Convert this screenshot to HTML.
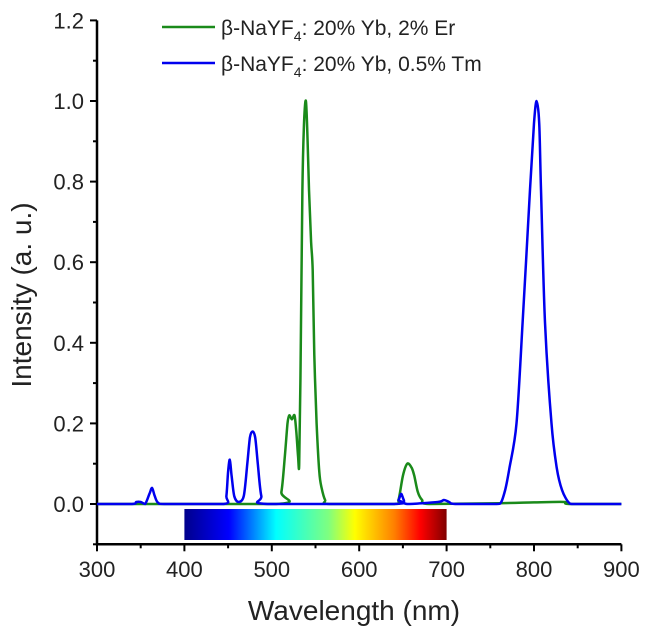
<!DOCTYPE html>
<html><head><meta charset="utf-8"><style>
body{margin:0;background:#fff;}
svg{display:block;font-family:"Liberation Sans",Arial,sans-serif;}
</style></head><body>
<svg id="chart" width="650" height="641" viewBox="0 0 650 641" xmlns="http://www.w3.org/2000/svg">
<defs>
<linearGradient id="spec" x1="0" x2="1" y1="0" y2="0">
<stop offset="0" stop-color="#00008b"/>
<stop offset="0.17" stop-color="#0000ff"/>
<stop offset="0.35" stop-color="#00ffff"/>
<stop offset="0.55" stop-color="#7fff7f"/>
<stop offset="0.65" stop-color="#ffff00"/>
<stop offset="0.8" stop-color="#ff8000"/>
<stop offset="0.9" stop-color="#ff0000"/>
<stop offset="1" stop-color="#800000"/>
</linearGradient>
</defs>
<g id="plot"></g>
</svg>
<script>
const xTicks=[300,400,500,600,700,800,900];
const yTicks=[0.0,0.2,0.4,0.6,0.8,1.0,1.2];
const erWl=[300,505,511,515,518,520,523,526,528,530,531.4,533,535,537,539,541,542.6,545,546.8,548.6,551.3,554.3,557,561,566,640,645,650,655,660,663,667,672,680,760,800,835,840,900];
const erI=[0,0,0.03,0.12,0.2,0.22,0.21,0.22,0.18,0.12,0.10,0.35,0.78,0.95,1.0,0.9,0.78,0.65,0.58,0.37,0.2,0.08,0.04,0.01,0,0,0.01,0.07,0.1,0.09,0.07,0.03,0.01,0,0.002,0.004,0.005,0,0];
const tmWl=[300,340,345,350,355,360,363,366,370,380,445,448,450,452,454,457,462,468,472,475,478,481,484,488,495,640,645,648,651,655,690,697,703,710,755,762,767,772,780,787,795.4,800,803,806,808,812.6,820,826,832,840,848,900];
const tmI=[0,0,0.005,0.005,0,0.025,0.04,0.02,0.003,0,0,0.02,0.08,0.11,0.07,0.02,0.005,0.02,0.1,0.165,0.18,0.165,0.1,0.02,0,0,0.01,0.025,0.01,0,0.005,0.01,0.005,0,0,0.003,0.035,0.09,0.2,0.45,0.78,0.945,1.0,0.945,0.78,0.45,0.2,0.09,0.035,0.003,0,0];
const legendLabels=["20% Yb, 2% Er","20% Yb, 0.5% Tm"];

const NS="http://www.w3.org/2000/svg";
const g=document.getElementById('plot');
const X=w=>97+(w-300)*0.874;
const Y=v=>504-v*403;
function el(tag,attrs,parent){const e=document.createElementNS(NS,tag);for(const k in attrs)e.setAttribute(k,attrs[k]);(parent||g).appendChild(e);return e;}

const cb=el('rect',{x:X(400),y:509,width:X(700)-X(400),height:31,fill:'url(#spec)'});



const ax=el('path',{d:`M${X(300)} ${Y(1.2)}V${Y(-0.1)}H${X(900)}`,stroke:'#000','stroke-width':2.5,fill:'none'});


for(let k=-1;k<=12;k++){const v=k/10;const maj=Math.abs(k)%2===0;
 el('line',{x1:X(300),x2:X(300)-(maj?7:4),y1:Y(v),y2:Y(v),stroke:'#000','stroke-width':2});}
for(let w=300;w<=900;w+=50){const maj=w%100===0;
 el('line',{x1:X(w),x2:X(w),y1:Y(-0.1),y2:Y(-0.1)+(maj?7:4),stroke:'#000','stroke-width':2});}
yTicks.forEach(v=>{const t=el('text',{x:84,y:Y(v)+8,'text-anchor':'end','font-size':22,fill:'#222'});t.textContent=v.toFixed(1);
 
 });
xTicks.forEach(w=>{const t=el('text',{x:X(w),y:577,'text-anchor':'middle','font-size':22,fill:'#222'});t.textContent=w;
 
 });

const xt=el('text',{x:354,y:620,'text-anchor':'middle','font-size':28,fill:'#222'});xt.textContent='Wavelength (nm)';


const yt=el('text',{x:0,y:0,'text-anchor':'middle','font-size':28,fill:'#222',transform:'translate(31,295) rotate(-90)'});yt.textContent='Intensity (a. u.)';



function line(wl,I,color,name){
 const P=wl.map((w,i)=>[X(w),Y(I[i])]);
 let d='M'+P[0][0].toFixed(1)+' '+P[0][1].toFixed(1);
 for(let i=0;i<P.length-1;i++){
  const p0=P[Math.max(0,i-1)],p1=P[i],p2=P[i+1],p3=P[Math.min(P.length-1,i+2)];
  const t=0.15;
  let c1=[p1[0]+(p2[0]-p0[0])*t,p1[1]+(p2[1]-p0[1])*t];
  let c2=[p2[0]-(p3[0]-p1[0])*t,p2[1]-(p3[1]-p1[1])*t];
  c1[1]=Math.min(c1[1],Y(0));c2[1]=Math.min(c2[1],Y(0));
  d+='C'+c1[0].toFixed(1)+' '+c1[1].toFixed(1)+' '+c2[0].toFixed(1)+' '+c2[1].toFixed(1)+' '+p2[0].toFixed(1)+' '+p2[1].toFixed(1);
 }
 const p=el('path',{d:d,stroke:color,'stroke-width':2.5,fill:'none','stroke-linejoin':'round'});
 
 }
line(erWl,erI,'#1a8a1a','er-series');
line(tmWl,tmI,'#0000ee','tm-series');

[['#1a8a1a',27],['#0000ee',63]].forEach((c,i)=>{
 const l=el('line',{x1:162,x2:215,y1:c[1],y2:c[1],stroke:c[0],'stroke-width':2.5});
 
 
 const t=el('text',{x:221,y:c[1]+8,'font-size':21,fill:'#222'});
 
 
 t.innerHTML='β-NaYF<tspan font-size="14" dy="6">4</tspan><tspan dy="-6">: '+legendLabels[i]+'</tspan>';
});
</script>
</body></html>
